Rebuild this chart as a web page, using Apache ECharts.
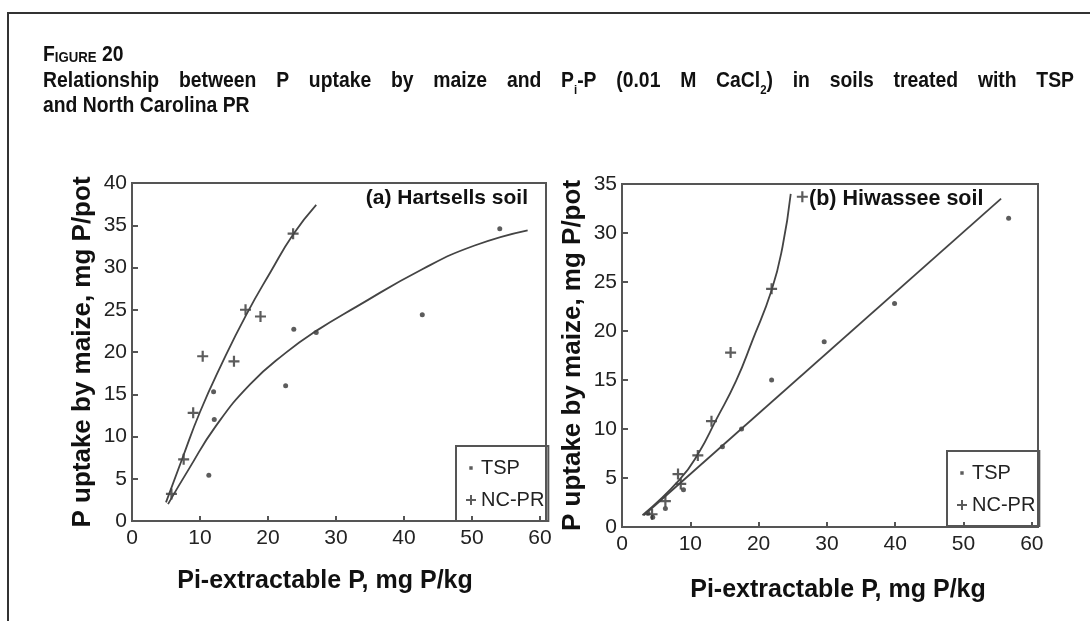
<!DOCTYPE html>
<html>
<head>
<meta charset="utf-8">
<title>Figure 20</title>
<script src="https://cdn.jsdelivr.net/npm/echarts@6/dist/echarts.min.js"></script>
<style>
html, body { margin: 0; padding: 0; background: #fff; }
#main { width: 1090px; height: 621px; }
</style>
</head>
<body>
<div id="main"></div>
<script>
// values: [Pi-extractable P, P uptake]
var hartsellsTsp = [[11.3, 5.4], [12.1, 12.0], [12.0, 15.3], [22.6, 16.0], [23.8, 22.7], [27.1, 22.3], [42.7, 24.4], [54.1, 34.6]];
var hartsellsNcpr = [[5.8, 3.2], [7.6, 7.3], [9.0, 12.8], [10.4, 19.5], [15.0, 18.9], [16.7, 25.0], [18.9, 24.2], [23.7, 34.0]];
var hartsellsTspFit = [[5.3, 2.0], [8.4, 6.2], [12.3, 11.2], [17.4, 16.2], [22.6, 19.9], [27.1, 22.5], [33.1, 25.4], [42.7, 29.8], [50.4, 32.6], [58.2, 34.4]];
var hartsellsNcprFit = [[5.0, 2.2], [7.4, 7.4], [10.0, 12.9], [13.2, 18.6], [16.8, 24.4], [20.4, 29.5], [23.7, 33.9], [27.1, 37.4]];

var hiwasseeTsp = [[3.8, 1.4], [4.5, 1.0], [6.35, 1.9], [9.0, 3.8], [14.7, 8.2], [17.5, 10.0], [21.9, 15.0], [29.6, 18.9], [39.9, 22.8], [56.6, 31.5]];
var hiwasseeNcpr = [[4.4, 1.3], [6.35, 2.65], [8.2, 5.4], [8.6, 4.4], [11.1, 7.3], [13.1, 10.8], [15.9, 17.8], [21.9, 24.3], [26.4, 33.7]];
var hiwasseeTspFit = [[3.2, 1.2], [55.5, 33.5]];
var hiwasseeNcprFit = [[3.0, 1.2], [8.4, 4.8], [11.3, 7.65], [13.75, 10.9], [16.7, 14.9], [19.1, 19.05], [21.9, 24.15], [23.5, 28.6], [24.7, 34.0]];

var xLabels = [0, 10, 20, 30, 40, 50, 60];
var yMaxA = 40, yMaxB = 35;

var family = '"Liberation Sans", Arial, sans-serif';
var ink = '#222';
var frame = '#555';
var plusIcon = 'path://M4,0h2v4h4v2h-4v4h-2v-4h-4v-2h4z';
var dotIcon = 'path://M0,0h0.01v0.01h-0.01zM10,10h0.01v0.01h-0.01zM3.3,3.3h3.4v3.4h-3.4z';

// title: condensed bold, justified word by word like the printed figure
var squeeze = 0.88;
var measureCtx = document.createElement('canvas').getContext('2d');
function textWidth(str, size) {
    measureCtx.font = 'bold ' + size + 'px ' + family;
    return measureCtx.measureText(str).width * squeeze;
}
function titleText(str, size, x, y) {
    return {
        type: 'text', x: x, y: y, scaleX: squeeze, silent: true,
        style: {text: str, fill: '#111', font: 'bold ' + size + 'px ' + family, verticalAlign: 'bottom'}
    };
}
function parseWord(word) {
    var parts = [], re = /_\{([^}]*)\}/g, last = 0, m;
    while ((m = re.exec(word))) {
        if (m.index > last) parts.push({t: word.slice(last, m.index), sub: false});
        parts.push({t: m[1], sub: true});
        last = re.lastIndex;
    }
    if (last < word.length) parts.push({t: word.slice(last), sub: false});
    return parts;
}
function lineElements(line, x0, x1, y, justify) {
    var words = line.split(' ').map(parseWord);
    var widths = words.map(function (segs) {
        return segs.reduce(function (s, g) { return s + textWidth(g.t, g.sub ? 13 : 22); }, 0);
    });
    var total = widths.reduce(function (a, b) { return a + b; }, 0);
    var gap = justify ? (x1 - x0 - total) / (words.length - 1) : textWidth(' ', 22);
    var els = [], x = x0;
    words.forEach(function (segs) {
        segs.forEach(function (g) {
            var size = g.sub ? 13 : 22;
            els.push(titleText(g.t, size, x, g.sub ? y + 5 : y));
            x += textWidth(g.t, size);
        });
        x += gap;
    });
    return els;
}

var graphics = [{
    type: 'polyline', silent: true,
    shape: {points: [[8, 621], [8, 13], [1090, 13]]},
    style: {stroke: '#333', lineWidth: 2, fill: null}
}];
// "FIGURE 20" in small caps
var fx = 43, fy = 66;
[['F', 22], ['IGURE', 15], [' 20', 22]].forEach(function (p) {
    graphics.push(titleText(p[0], p[1], fx, fy + (p[1] < 22 ? -1 : 0)));
    fx += textWidth(p[0], p[1]);
});
graphics = graphics.concat(
    lineElements('Relationship between P uptake by maize and P_{i}-P (0.01 M CaCl_{2}) in soils treated with TSP', 43, 1074, 92, true),
    lineElements('and North Carolina PR', 43, 1074, 117, false)
);

function xAxisFor(idx, pad) {
    return {
        type: 'value', gridIndex: idx, min: 0, max: 60.9, interval: 10,
        name: 'Pi-extractable P, mg P/kg', nameLocation: 'middle', nameGap: idx === 0 ? 48 : 51,
        nameTextStyle: {fontFamily: family, fontWeight: 'bold', fontSize: 25, color: '#111', padding: pad},
        axisLine: {show: true, onZero: false, lineStyle: {color: frame, width: 2}},
        axisTick: {show: true, inside: true, length: 5, lineStyle: {color: frame, width: 2}},
        axisLabel: {
            margin: 7, fontSize: 21, color: ink, fontFamily: family,
            formatter: function (v) { return xLabels.indexOf(v) >= 0 ? String(v) : ''; }
        },
        splitLine: {show: false}
    };
}
function yAxisFor(idx, max) {
    return {
        type: 'value', gridIndex: idx, min: 0, max: max, interval: 5,
        name: 'P uptake by maize, mg P/pot', nameLocation: 'middle', nameRotate: 90, nameGap: 36,
        nameTextStyle: {fontFamily: family, fontWeight: 'bold', fontSize: 26, color: '#111'},
        axisLine: {show: true, onZero: false, lineStyle: {color: frame, width: 2}},
        axisTick: {show: true, inside: true, length: 6, lineStyle: {color: frame, width: 2}},
        axisLabel: {margin: 5, fontSize: 21, color: ink, fontFamily: family},
        splitLine: {show: false}
    };
}
function legendFor(left, top) {
    return {
        orient: 'vertical', left: left, top: top, padding: [12, 4, 11, 10],
        itemGap: 12, itemWidth: 10, itemHeight: 10, selectedMode: false,
        borderColor: frame, borderWidth: 2, borderRadius: 0,
        textStyle: {fontSize: 20, lineHeight: 20, color: ink, fontFamily: family},
        data: [{name: 'TSP', icon: dotIcon}, {name: 'NC-PR', icon: plusIcon}]
    };
}
function pointSeries(name, data, idx) {
    return {
        name: name, type: 'scatter', xAxisIndex: idx, yAxisIndex: idx, data: data,
        symbol: name === 'TSP' ? 'circle' : plusIcon, symbolSize: name === 'TSP' ? 5 : 11,
        itemStyle: {color: '#333'}
    };
}
function fitSeries(name, data, idx) {
    return {
        name: name, type: 'line', xAxisIndex: idx, yAxisIndex: idx, data: data,
        smooth: true, showSymbol: false, silent: true,
        lineStyle: {color: '#444', width: 1.8}
    };
}

var myChart = echarts.init(document.getElementById('main'));
var option = {
    animation: false,
    backgroundColor: '#fff',
    title: [
        {text: '(a) Hartsells soil', right: 562, top: 188, padding: 0,
            textStyle: {fontFamily: family, fontWeight: 'bold', fontSize: 21, color: '#111'}},
        {text: '(b) Hiwassee soil', left: 809, top: 188, padding: 0,
            textStyle: {fontFamily: family, fontWeight: 'bold', fontSize: 21.5, color: '#111'}}
    ],
    grid: [
        {left: 132, top: 183, width: 414, height: 338, show: true, borderColor: frame, borderWidth: 2, outerBoundsMode: 'none'},
        {left: 622, top: 184, width: 416, height: 343, show: true, borderColor: frame, borderWidth: 2, outerBoundsMode: 'none'}
    ],
    xAxis: [xAxisFor(0, [0, 28, 0, 0]), xAxisFor(1, [0, 0, 0, 16])],
    yAxis: [yAxisFor(0, yMaxA), yAxisFor(1, yMaxB)],
    legend: [legendFor(456, 446), legendFor(947, 451)],
    graphic: graphics,
    series: [
        fitSeries('TSP fit (a)', hartsellsTspFit, 0),
        fitSeries('NC-PR fit (a)', hartsellsNcprFit, 0),
        pointSeries('TSP', hartsellsTsp, 0),
        pointSeries('NC-PR', hartsellsNcpr, 0),
        fitSeries('TSP fit (b)', hiwasseeTspFit, 1),
        fitSeries('NC-PR fit (b)', hiwasseeNcprFit, 1),
        pointSeries('TSP', hiwasseeTsp, 1),
        pointSeries('NC-PR', hiwasseeNcpr, 1)
    ]
};
myChart.setOption(option);

window.addEventListener('resize', function () {
    myChart.resize();
});
</script>
</body>
</html>
